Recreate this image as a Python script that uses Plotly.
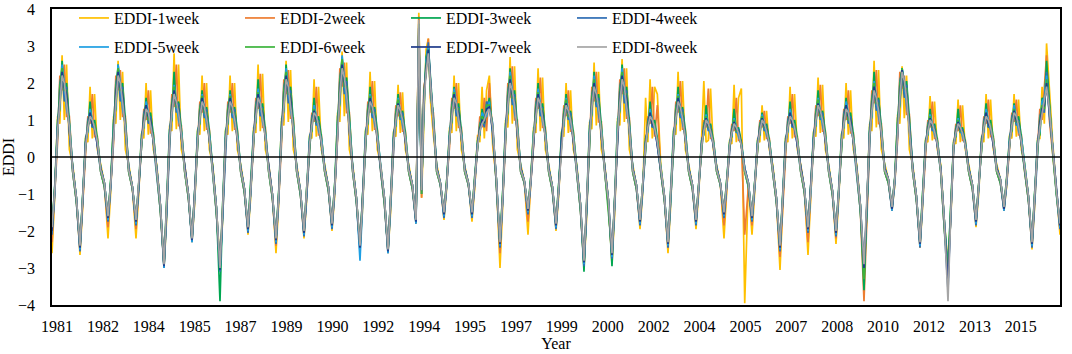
import plotly.graph_objects as go

# Sample positions inside each yearly cycle (fraction of a year)
cycle_frac = [0, 0.1, 0.2, 0.28, 0.36, 0.44, 0.52, 0.62, 0.74, 0.87]
n_years = 36

tick_labels = ["1981", "1982", "1984", "1985", "1987", "1989", "1990", "1992", "1994", "1995", "1997",
               "1999", "2000", "2002", "2004", "2005", "2007", "2008", "2010", "2012", "2013", "2015"]

series_names = ["EDDI-1week", "EDDI-2week", "EDDI-3week", "EDDI-4week",
                "EDDI-5week", "EDDI-6week", "EDDI-7week", "EDDI-8week"]

eddi_1week = [
-2.6,-1.0,1.1,0.9,2.75,1.0,2.5,0.2,-0.2,-1.1,
-2.65,-1.3,0.55,0.4,1.9,0.5,1.7,0.2,-0.2,-0.7,
-2.2,-0.9,1.1,0.9,2.6,1.0,2.3,0.2,-0.2,-0.8,
-2.2,-0.95,0.65,0.5,2.0,0.6,1.8,0.2,-0.2,-1.3,
-3.0,-1.6,0.85,0.7,2.8,0.75,2.5,0.2,-0.2,-1.0,
-2.3,-1.2,0.75,0.6,2.2,0.7,2.0,0.2,-0.2,-1.35,
-2.9,-1.65,0.75,0.6,2.2,0.7,2.0,0.2,-0.2,-0.85,
-2.1,-1.05,0.8,0.65,2.5,0.7,2.25,0.2,-0.2,-1.0,
-2.6,-1.2,1.05,0.85,2.6,0.95,2.35,0.2,-0.2,-0.9,
-2.2,-1.1,0.6,0.5,2.1,0.55,1.9,0.2,-0.2,-0.8,
-2.0,-1.0,1.2,0.95,2.85,1.1,2.55,0.2,-0.2,-1.1,
-2.5,-1.3,0.75,0.6,2.3,0.7,2.05,0.2,-0.2,-1.1,
-2.6,-1.4,0.7,0.55,1.95,0.65,1.75,0.2,-0.2,-0.75,
-1.8,3.9,-1.1,1.0,2.9,3.2,1.5,0.6,-0.2,-0.7,
-1.7,-0.8,0.8,0.65,2.2,0.7,2.0,0.2,-0.2,-0.7,
-1.75,-0.8,0.6,0.4,1.9,0.5,1.8,2.2,0.3,-0.6,
-3.0,-1.25,1.0,0.8,2.7,0.9,2.45,0.2,-0.2,-0.65,
-2.1,-0.75,0.8,0.65,2.4,0.7,2.15,0.2,-0.2,-0.8,
-2.0,-1.0,0.7,0.55,2.0,0.65,1.8,0.2,-0.2,-1.25,
-3.0,-1.55,0.95,0.75,2.55,0.85,2.3,0.2,-0.2,-1.15,
-2.9,-1.45,1.05,0.85,2.65,0.95,2.4,0.2,-0.2,-0.75,
-1.95,-0.95,1.6,0.4,2.1,0.5,1.9,1.7,-0.2,-1.05,
-2.6,-1.25,0.75,0.6,2.3,0.7,2.05,0.2,-0.2,-0.75,
-1.95,-0.95,0.5,2.05,0.4,0.45,1.85,0.2,-0.2,-0.7,
-2.2,-0.8,0.45,0.35,1.95,0.4,1.6,1.85,-3.95,-0.7,
-2.1,-0.9,0.5,0.4,1.4,0.45,1.25,0.2,-0.2,-1.1,
-3.05,-1.3,0.55,0.4,1.9,0.5,1.7,0.2,-0.2,-0.85,
-2.65,-1.05,0.7,0.55,2.15,0.65,1.95,0.2,-0.2,-0.9,
-2.35,-1.1,0.65,0.5,2.0,0.6,1.8,0.2,-0.2,-1.3,
-3.2,-1.6,0.9,0.7,2.6,0.8,2.35,0.2,-0.2,-0.6,
-1.45,-0.75,1.15,0.9,2.45,1.05,2.2,0.2,-0.2,-1.05,
-2.45,-1.25,0.5,0.4,1.65,0.45,1.5,0.2,-0.2,-1.75,
-2.9,-1.7,0.45,0.35,1.55,0.4,1.4,0.2,-0.2,-0.75,
-1.9,-0.95,0.55,0.4,1.7,0.5,1.55,0.2,-0.2,-0.6,
-1.45,-0.75,0.6,0.5,1.7,0.55,1.55,0.2,-0.2,-1.05,
-2.5,-1.25,0.5,0.5,1.9,0.9,3.07,1.7,0.4,-0.9,
-2.1]

eddi_2week = [
-2.3,-1.0,0.4,2.2,1.8,2.5,1.1,1.1,-0.4,-1.2,
-2.5,-1.2,0.2,1.1,0.9,1.7,0.55,0.55,-0.4,-0.8,
-1.9,-0.8,0.4,2.2,1.8,2.35,1.1,1.1,-0.4,-0.85,
-1.95,-0.85,0.26,1.3,1.0,1.8,0.65,0.65,-0.4,-1.45,
-2.95,-1.45,0.34,1.7,1.35,2.5,0.85,0.85,-0.4,-1.1,
-2.25,-1.1,0.3,1.5,1.2,2.0,0.75,0.75,-0.4,-1.5,
-3.0,-1.5,0.3,1.5,1.2,2.0,0.75,0.75,-0.4,-0.95,
-2.0,-0.95,0.3,1.6,1.3,2.25,0.8,0.8,-0.4,-1.1,
-2.4,-1.1,0.4,2.1,1.7,2.35,1.05,1.05,-0.4,-1.0,
-2.1,-1.0,0.25,1.2,0.95,1.9,0.6,0.6,-0.4,-0.9,
-1.9,-0.9,0.5,2.4,1.9,2.55,1.2,1.2,-0.4,-1.2,
-2.5,-1.2,0.3,1.5,1.2,2.05,0.75,0.75,-0.4,-1.25,
-2.55,-1.25,0.3,1.4,1.1,1.75,0.7,0.7,-0.4,-0.85,
-1.75,3.8,-1.1,1.9,2.2,3.2,1.6,1.2,-0.4,-0.75,
-1.6,-0.75,0.3,1.6,1.3,2.0,0.8,0.8,-0.4,-0.75,
-1.6,-0.75,0.2,1.1,0.8,1.6,0.7,2.0,0.5,-0.7,
-2.6,-1.15,0.4,2.0,1.6,2.45,1.0,1.0,-0.4,-0.7,
-1.75,-0.7,0.3,1.6,1.3,2.15,0.8,0.8,-0.4,-0.9,
-1.9,-0.9,0.3,1.4,1.1,1.8,0.7,0.7,-0.4,-1.4,
-2.95,-1.4,0.4,1.9,1.5,2.3,0.95,0.95,-0.4,-1.3,
-2.8,-1.3,0.4,2.1,1.7,2.4,1.05,1.05,-0.4,-0.85,
-1.8,-0.85,0.2,1.1,0.9,1.9,0.55,1.4,-0.4,-1.15,
-2.45,-1.15,0.3,1.5,1.2,2.05,0.75,0.75,-0.4,-0.85,
-1.8,-0.85,0.2,1.0,0.8,1.85,0.5,0.5,-0.4,-0.75,
-1.85,-0.75,0.2,0.9,0.7,1.6,0.45,0.45,-2.1,-0.8,
-1.85,-0.8,0.2,1.0,0.8,1.25,0.5,0.5,-0.4,-1.2,
-2.7,-1.2,0.2,1.1,0.9,1.7,0.55,0.55,-0.4,-0.95,
-2.3,-0.95,0.3,1.4,1.1,1.95,0.7,0.7,-0.4,-1.0,
-2.2,-1.0,0.26,1.3,1.0,1.8,0.65,0.65,-0.4,-1.45,
-3.9,-1.45,0.35,1.8,1.45,2.35,0.9,0.9,-0.4,-0.7,
-1.4,-0.7,0.45,2.3,1.85,2.2,1.15,1.15,-0.4,-1.15,
-2.4,-1.15,0.2,1.0,0.8,1.5,0.5,0.5,-0.4,-1.95,
-3.0,-1.6,0.2,0.9,0.7,1.4,0.45,0.45,-0.4,-0.85,
-1.8,-0.85,0.2,1.1,0.9,1.55,0.55,0.55,-0.4,-0.7,
-1.4,-0.7,0.25,1.2,0.95,1.55,0.6,0.6,-0.4,-1.15,
-2.4,-1.15,0.2,1.3,1.0,2.0,2.75,1.0,0.0,-1.0,
-1.95]

eddi_3week = [
-1.9,-0.8,1.0,1.3,2.6,1.7,2.0,1.0,-0.3,-1.1,
-2.4,-1.0,0.5,0.7,1.5,0.8,1.0,0.5,-0.3,-0.7,
-1.6,-0.6,1.0,1.3,2.5,1.7,2.0,1.0,-0.3,-0.8,
-1.7,-0.7,0.6,0.8,1.6,1.0,1.2,0.6,-0.3,-1.3,
-2.9,-1.15,0.75,1.0,2.3,1.3,1.5,0.75,-0.3,-1.0,
-2.2,-0.9,0.7,0.9,1.8,1.1,1.35,0.7,-0.3,-1.35,
-3.9,-1.2,0.7,0.9,1.8,1.1,1.35,0.7,-0.3,-0.85,
-1.9,-0.75,0.7,0.95,2.1,1.2,1.45,0.7,-0.3,-1.0,
-2.2,-0.9,0.95,1.25,2.5,1.6,1.9,0.95,-0.3,-0.9,
-2.0,-0.8,0.55,0.7,1.6,0.9,1.1,0.55,-0.3,-0.8,
-1.8,-0.7,1.1,1.45,2.7,1.8,2.15,1.1,-0.3,-1.1,
-2.4,-0.95,0.7,0.9,1.9,1.1,1.35,0.7,-0.3,-1.1,
-2.5,-1.0,0.65,0.85,1.7,1.05,1.25,0.65,-0.3,-0.75,
-1.7,3.6,-0.8,1.2,2.7,3.0,2.1,1.2,-0.3,-0.7,
-1.5,-0.6,0.7,0.95,1.9,1.2,1.45,0.7,-0.3,-0.7,
-1.5,-0.5,0.45,0.6,1.3,0.9,1.2,1.6,0.7,-0.6,
-2.3,-0.9,0.9,1.2,2.4,1.5,1.8,0.9,-0.3,-0.65,
-1.4,-0.55,0.7,0.95,2.0,1.2,1.45,0.7,-0.3,-0.8,
-1.8,-0.7,0.65,0.85,1.7,1.05,1.25,0.65,-0.3,-1.25,
-3.1,-1.1,0.85,1.15,2.3,1.4,1.7,0.85,-0.3,-1.15,
-2.95,-1.05,0.95,1.25,2.5,1.6,1.9,0.95,-0.3,-0.75,
-1.7,-0.7,0.5,0.7,1.5,0.8,1.0,0.5,-0.3,-1.05,
-2.3,-0.9,0.7,0.9,1.9,1.1,1.35,0.7,-0.3,-0.75,
-1.7,-0.7,0.45,0.6,1.4,0.75,0.9,0.45,-0.3,-0.7,
-1.5,-0.6,0.4,0.55,1.3,0.7,0.8,0.4,-0.3,-0.7,
-1.6,-0.65,0.45,0.6,1.2,0.75,0.9,0.45,-0.3,-1.1,
-2.4,-0.95,0.5,0.7,1.5,0.8,1.0,0.5,-0.3,-0.85,
-1.9,-0.75,0.65,0.85,1.8,1.05,1.25,0.65,-0.3,-0.9,
-2.0,-0.8,0.6,0.8,1.6,1.0,1.2,0.6,-0.3,-1.3,
-3.6,-1.15,0.8,1.1,2.3,1.35,1.6,0.8,-0.3,-0.6,
-1.35,-0.55,1.05,1.4,2.4,1.7,2.05,1.05,-0.3,-1.05,
-2.3,-0.9,0.45,0.6,1.3,0.75,0.9,0.45,-0.3,-1.75,
-3.0,-1.3,0.4,0.55,1.3,0.7,0.8,0.4,-0.3,-0.75,
-1.7,-0.7,0.5,0.7,1.45,0.8,1.0,0.5,-0.3,-0.6,
-1.35,-0.55,0.55,0.7,1.45,0.9,1.1,0.55,-0.3,-1.05,
-2.3,-0.9,0.45,0.6,1.6,1.4,2.6,1.5,0.2,-0.9,
-1.8]

eddi_4week = [
-2.1,-0.9,0.6,2.0,2.3,1.5,1.9,0.7,-0.4,-1.2,
-2.55,-1.1,0.3,1.0,1.2,0.8,0.9,0.3,-0.4,-0.8,
-1.75,-0.7,0.6,2.0,2.3,1.5,1.9,0.7,-0.4,-0.85,
-1.85,-0.75,0.3,1.2,1.4,0.9,1.1,0.4,-0.4,-1.45,
-3.0,-1.3,0.4,1.5,1.8,1.2,1.45,0.5,-0.4,-1.1,
-2.3,-1.0,0.4,1.35,1.6,1.05,1.3,0.45,-0.4,-1.5,
-3.1,-1.35,0.4,1.35,1.6,1.05,1.3,0.45,-0.4,-0.95,
-2.05,-0.85,0.4,1.45,1.7,1.1,1.35,0.5,-0.4,-1.1,
-2.35,-1.0,0.5,1.9,2.2,1.45,1.8,0.65,-0.4,-1.0,
-2.15,-0.9,0.3,1.1,1.25,0.85,1.0,0.35,-0.4,-0.9,
-1.95,-0.8,0.6,2.15,2.5,1.7,2.05,0.7,-0.4,-1.2,
-2.55,-1.1,0.4,1.35,1.6,1.05,1.3,0.45,-0.4,-1.25,
-2.6,-1.15,0.35,1.25,1.45,1.0,1.2,0.4,-0.4,-0.85,
-1.8,3.2,-1.0,1.7,2.4,3.1,2.0,0.9,-0.4,-0.75,
-1.65,-0.7,0.4,1.45,1.7,1.1,1.35,0.5,-0.4,-0.75,
-1.65,-0.6,0.25,0.9,1.05,0.8,1.5,1.35,0.9,-0.7,
-2.45,-1.05,0.5,1.8,2.1,1.4,1.7,0.6,-0.4,-0.7,
-1.55,-0.65,0.4,1.45,1.7,1.1,1.35,0.5,-0.4,-0.9,
-1.95,-0.8,0.35,1.25,1.45,1.0,1.2,0.4,-0.4,-1.4,
-2.95,-1.25,0.5,1.7,2.0,1.35,1.6,0.55,-0.4,-1.3,
-2.75,-1.15,0.5,1.9,2.2,1.45,1.8,0.65,-0.4,-0.85,
-1.85,-0.75,0.3,1.0,1.2,0.8,0.9,0.3,-0.4,-1.15,
-2.45,-1.05,0.4,1.35,1.6,1.05,1.3,0.45,-0.4,-0.85,
-1.85,-0.75,0.25,0.9,1.05,0.7,0.85,0.3,-0.4,-0.75,
-1.65,-0.7,0.2,0.8,0.95,0.65,0.75,0.3,-0.4,-0.8,
-1.75,-0.7,0.25,0.9,1.05,0.7,0.85,0.3,-0.4,-1.2,
-2.55,-1.1,0.3,1.0,1.2,0.8,0.9,0.3,-0.4,-0.95,
-2.05,-0.85,0.35,1.25,1.45,1.0,1.2,0.4,-0.4,-1.0,
-2.15,-0.9,0.3,1.2,1.4,0.9,1.1,0.4,-0.4,-1.45,
-3.1,-1.3,0.45,1.6,1.9,1.25,1.55,0.55,-0.4,-0.7,
-1.45,-0.6,0.6,2.05,2.35,1.6,1.95,0.7,-0.4,-1.15,
-2.45,-1.05,0.25,0.9,1.05,0.7,0.85,0.3,-0.4,-1.95,
-3.6,-1.5,0.2,0.8,0.95,0.65,0.75,0.3,-0.4,-0.85,
-1.85,-0.75,0.3,1.0,1.2,0.8,0.9,0.3,-0.4,-0.7,
-1.45,-0.6,0.3,1.1,1.25,0.85,1.0,0.35,-0.4,-1.15,
-2.45,-1.05,0.25,1.1,1.3,1.2,2.3,1.3,0.1,-1.0,
-1.95]

eddi_5week = [
-2.0,-1.0,0.9,1.4,2.5,2.0,1.3,0.9,-0.3,-1.1,
-2.5,-1.2,0.4,0.7,1.3,1.0,0.7,0.4,-0.3,-0.7,
-1.7,-0.8,0.9,1.4,2.5,2.0,1.3,0.9,-0.3,-0.8,
-1.8,-0.85,0.5,0.85,1.5,1.2,0.8,0.5,-0.3,-1.3,
-3.0,-1.45,0.7,1.1,1.95,1.5,1.0,0.7,-0.3,-1.0,
-2.3,-1.1,0.6,1.0,1.7,1.35,0.9,0.6,-0.3,-1.35,
-3.05,-1.5,0.6,1.0,1.7,1.35,0.9,0.6,-0.3,-0.85,
-2.0,-0.95,0.65,1.05,1.85,1.45,0.95,0.65,-0.3,-1.0,
-2.3,-1.1,0.85,1.35,2.4,1.9,1.25,0.85,-0.3,-0.9,
-2.1,-1.0,0.5,0.8,1.4,1.1,0.7,0.5,-0.3,-0.8,
-1.9,-0.9,0.95,1.55,2.75,2.15,1.45,0.95,-0.3,-1.1,
-2.8,-1.2,0.6,1.0,1.7,1.35,0.9,0.6,-0.3,-1.1,
-2.6,-1.25,0.55,0.9,1.6,1.25,0.85,0.55,-0.3,-0.75,
-1.8,3.0,-0.8,1.3,2.6,3.0,1.7,1.1,-0.3,-0.7,
-1.6,-0.75,0.65,1.05,1.85,1.45,0.95,0.65,-0.3,-0.7,
-1.6,-0.7,0.4,0.65,1.2,1.1,1.1,1.5,0.6,-0.6,
-2.4,-1.15,0.8,1.3,2.3,1.8,1.2,0.8,-0.3,-0.65,
-1.5,-0.7,0.65,1.05,1.85,1.45,0.95,0.65,-0.3,-0.8,
-1.9,-0.9,0.55,0.9,1.6,1.25,0.85,0.55,-0.3,-1.25,
-2.9,-1.4,0.75,1.25,2.2,1.7,1.15,0.75,-0.3,-1.15,
-2.7,-1.3,0.85,1.35,2.4,1.9,1.25,0.85,-0.3,-0.75,
-1.8,-0.85,0.4,0.7,1.3,1.0,0.7,0.4,-0.3,-1.05,
-2.4,-1.15,0.6,1.0,1.7,1.35,0.9,0.6,-0.3,-0.75,
-1.8,-0.85,0.4,0.65,1.15,0.9,0.6,0.4,-0.3,-0.7,
-1.6,-0.75,0.35,0.6,1.05,0.8,0.55,0.35,-0.3,-0.7,
-1.7,-0.8,0.4,0.65,1.15,0.9,0.6,0.4,-0.3,-1.1,
-2.5,-1.2,0.4,0.7,1.3,1.0,0.7,0.4,-0.3,-0.85,
-2.0,-0.95,0.55,0.9,1.6,1.25,0.85,0.55,-0.3,-0.9,
-2.1,-1.0,0.5,0.85,1.5,1.2,0.8,0.5,-0.3,-1.3,
-3.0,-1.45,0.7,1.15,2.05,1.6,1.1,0.7,-0.3,-0.6,
-1.45,-0.7,0.9,1.5,2.4,2.05,1.4,0.9,-0.3,-1.05,
-2.4,-1.15,0.4,0.65,1.15,0.9,0.6,0.4,-0.3,-1.75,
-3.2,-1.6,0.35,0.6,1.05,0.8,0.55,0.35,-0.3,-0.75,
-1.8,-0.85,0.4,0.7,1.3,1.0,0.7,0.4,-0.3,-0.6,
-1.45,-0.7,0.5,0.8,1.4,1.1,0.7,0.5,-0.3,-1.05,
-2.4,-1.15,0.4,0.7,1.5,1.6,2.2,1.1,0.3,-0.9,
-1.9]

eddi_6week = [
-1.9,-0.8,0.7,1.9,2.4,1.8,1.8,0.8,-0.4,-1.2,
-2.4,-1.0,0.3,0.9,1.2,0.9,0.9,0.4,-0.4,-0.8,
-1.6,-0.6,0.7,1.9,2.4,1.8,1.8,0.8,-0.4,-0.85,
-1.7,-0.7,0.4,1.1,1.4,1.0,1.0,0.45,-0.4,-1.45,
-2.9,-1.15,0.5,1.45,1.9,1.35,1.35,0.6,-0.4,-1.1,
-2.2,-0.9,0.45,1.3,1.65,1.2,1.2,0.5,-0.4,-1.5,
-3.0,-1.2,0.45,1.3,1.65,1.2,1.2,0.5,-0.4,-0.95,
-1.9,-0.75,0.5,1.35,1.75,1.3,1.3,0.55,-0.4,-1.1,
-2.2,-0.9,0.65,1.8,2.3,1.7,1.7,0.75,-0.4,-1.0,
-2.0,-0.8,0.35,1.0,1.3,0.95,0.95,0.4,-0.4,-0.9,
-1.8,-0.7,0.7,2.05,2.65,1.9,1.9,0.85,-0.4,-1.2,
-2.4,-0.95,0.45,1.3,1.65,1.2,1.2,0.5,-0.4,-1.25,
-2.5,-1.0,0.4,1.2,1.55,1.1,1.1,0.5,-0.4,-0.85,
-1.7,3.3,-1.0,1.6,2.5,2.9,1.8,1.0,-0.4,-0.75,
-1.5,-0.6,0.5,1.35,1.75,1.3,1.3,0.55,-0.4,-0.75,
-1.5,-0.5,0.3,0.85,1.1,0.9,1.4,1.4,0.8,-0.7,
-2.3,-0.9,0.6,1.7,2.2,1.6,1.6,0.7,-0.4,-0.7,
-1.4,-0.55,0.5,1.35,1.75,1.3,1.3,0.55,-0.4,-0.9,
-1.8,-0.7,0.4,1.2,1.55,1.1,1.1,0.5,-0.4,-1.4,
-2.8,-1.1,0.55,1.6,2.1,1.5,1.5,0.65,-0.4,-1.3,
-2.6,-1.05,0.65,1.8,2.3,1.7,1.7,0.75,-0.4,-0.85,
-1.7,-0.7,0.3,0.9,1.2,0.9,0.9,0.4,-0.4,-1.15,
-2.3,-0.9,0.45,1.3,1.65,1.2,1.2,0.5,-0.4,-0.85,
-1.7,-0.7,0.3,0.85,1.1,0.8,0.8,0.35,-0.4,-0.75,
-1.5,-0.6,0.3,0.75,1.0,0.7,0.7,0.3,-0.4,-0.8,
-1.6,-0.65,0.3,0.85,1.1,0.8,0.8,0.35,-0.4,-1.2,
-2.4,-0.95,0.3,0.9,1.2,0.9,0.9,0.4,-0.4,-0.95,
-1.9,-0.75,0.4,1.2,1.55,1.1,1.1,0.5,-0.4,-1.0,
-2.0,-0.8,0.4,1.1,1.4,1.0,1.0,0.45,-0.4,-1.45,
-3.3,-1.15,0.55,1.55,2.0,1.45,1.45,0.65,-0.4,-0.7,
-1.35,-0.55,0.7,1.95,2.4,1.85,1.85,0.8,-0.4,-1.15,
-2.3,-0.9,0.3,0.85,1.1,0.8,0.8,0.35,-0.4,-1.95,
-3.1,-1.3,0.3,0.75,1.0,0.7,0.7,0.3,-0.4,-0.85,
-1.7,-0.7,0.3,0.9,1.2,0.9,0.9,0.4,-0.4,-0.7,
-1.35,-0.55,0.35,1.0,1.3,0.95,0.95,0.4,-0.4,-1.15,
-2.3,-0.9,0.3,1.0,1.4,1.3,2.1,1.4,0.1,-1.0,
-1.8]

eddi_7week = [
-2.0,-0.9,0.8,1.7,2.3,1.9,1.7,0.7,-0.3,-1.1,
-2.45,-1.1,0.4,0.8,1.2,0.9,0.8,0.3,-0.3,-0.7,
-1.65,-0.7,0.8,1.7,2.3,1.9,1.7,0.7,-0.3,-0.8,
-1.75,-0.75,0.45,1.0,1.4,1.1,1.0,0.4,-0.3,-1.3,
-2.95,-1.3,0.6,1.3,1.8,1.45,1.3,0.5,-0.3,-1.0,
-2.25,-1.0,0.5,1.1,1.6,1.3,1.1,0.45,-0.3,-1.35,
-3.05,-1.35,0.5,1.1,1.6,1.3,1.1,0.45,-0.3,-0.85,
-1.95,-0.85,0.55,1.2,1.7,1.35,1.2,0.5,-0.3,-1.0,
-2.25,-1.0,0.75,1.6,2.2,1.8,1.6,0.65,-0.3,-0.9,
-2.05,-0.9,0.4,0.9,1.25,1.0,0.9,0.35,-0.3,-0.8,
-1.85,-0.8,0.85,1.8,2.5,2.05,1.8,0.7,-0.3,-1.1,
-2.45,-1.1,0.5,1.1,1.6,1.3,1.1,0.45,-0.3,-1.1,
-2.55,-1.15,0.5,1.05,1.45,1.2,1.05,0.4,-0.3,-0.75,
-1.75,3.5,-0.9,1.5,2.4,2.9,1.9,0.9,-0.3,-0.7,
-1.55,-0.7,0.55,1.2,1.7,1.35,1.2,0.5,-0.3,-0.7,
-1.55,-0.6,0.35,0.75,1.0,0.95,1.3,1.35,0.7,-0.6,
-2.35,-1.05,0.7,1.5,2.1,1.7,1.5,0.6,-0.3,-0.65,
-1.45,-0.65,0.55,1.2,1.7,1.35,1.2,0.5,-0.3,-0.8,
-1.85,-0.8,0.5,1.05,1.45,1.2,1.05,0.4,-0.3,-1.25,
-2.85,-1.25,0.65,1.4,2.0,1.6,1.4,0.55,-0.3,-1.15,
-2.65,-1.15,0.75,1.6,2.2,1.8,1.6,0.65,-0.3,-0.75,
-1.75,-0.75,0.4,0.8,1.2,0.9,0.8,0.3,-0.3,-1.05,
-2.35,-1.05,0.5,1.1,1.6,1.3,1.1,0.45,-0.3,-0.75,
-1.75,-0.75,0.35,0.75,1.05,0.85,0.75,0.3,-0.3,-0.7,
-1.55,-0.7,0.3,0.7,0.95,0.75,0.7,0.3,-0.3,-0.7,
-1.65,-0.7,0.35,0.75,1.05,0.85,0.75,0.3,-0.3,-1.1,
-2.45,-1.1,0.4,0.8,1.2,0.9,0.8,0.3,-0.3,-0.85,
-1.95,-0.85,0.5,1.05,1.45,1.2,1.05,0.4,-0.3,-0.9,
-2.05,-0.9,0.45,1.0,1.4,1.1,1.0,0.4,-0.3,-1.3,
-3.0,-1.3,0.65,1.35,1.9,1.55,1.35,0.55,-0.3,-0.6,
-1.4,-0.6,0.8,1.7,2.35,1.95,1.7,0.7,-0.3,-1.05,
-2.35,-1.05,0.35,0.75,1.05,0.85,0.75,0.3,-0.3,-1.75,
-3.4,-1.5,0.3,0.7,0.95,0.75,0.7,0.3,-0.3,-0.75,
-1.75,-0.75,0.4,0.8,1.2,0.9,0.8,0.3,-0.3,-0.6,
-1.4,-0.6,0.4,0.9,1.25,1.0,0.9,0.35,-0.3,-1.05,
-2.35,-1.05,0.35,0.9,1.3,1.4,2.0,1.2,0.2,-0.9,
-1.85]

eddi_8week = [
-1.9,-0.9,0.7,1.5,2.2,2.0,1.5,0.8,-0.35,-1.1,
-2.4,-1.1,0.3,0.8,1.1,1.0,0.8,0.4,-0.35,-0.7,
-1.6,-0.7,0.7,1.5,2.2,2.0,1.5,0.8,-0.35,-0.8,
-1.7,-0.75,0.4,0.9,1.3,1.2,0.9,0.45,-0.35,-1.3,
-2.9,-1.3,0.5,1.2,1.7,1.5,1.2,0.6,-0.35,-1.0,
-2.2,-1.0,0.45,1.05,1.5,1.35,1.05,0.5,-0.35,-1.35,
-3.0,-1.35,0.45,1.05,1.5,1.35,1.05,0.5,-0.35,-0.85,
-1.9,-0.85,0.5,1.1,1.6,1.45,1.1,0.55,-0.35,-1.0,
-2.2,-1.0,0.65,1.45,2.1,1.9,1.45,0.75,-0.35,-0.9,
-2.0,-0.9,0.35,0.85,1.2,1.1,0.85,0.4,-0.35,-0.8,
-1.8,-0.8,0.7,1.7,2.4,2.15,1.7,0.85,-0.35,-1.1,
-2.4,-1.1,0.45,1.05,1.5,1.35,1.05,0.5,-0.35,-1.1,
-2.5,-1.15,0.4,1.0,1.4,1.25,1.0,0.5,-0.35,-0.75,
-1.7,3.7,-0.9,1.4,2.3,2.8,2.0,1.0,-0.35,-0.7,
-1.5,-0.7,0.5,1.1,1.6,1.45,1.1,0.55,-0.35,-0.7,
-1.5,-0.6,0.3,0.7,0.9,1.0,1.2,1.3,0.8,-0.6,
-2.3,-1.05,0.6,1.4,2.0,1.8,1.4,0.7,-0.35,-0.65,
-1.4,-0.65,0.5,1.1,1.6,1.45,1.1,0.55,-0.35,-0.8,
-1.8,-0.8,0.4,1.0,1.4,1.25,1.0,0.5,-0.35,-1.25,
-2.8,-1.25,0.55,1.35,1.9,1.7,1.35,0.65,-0.35,-1.15,
-2.6,-1.15,0.65,1.45,2.1,1.9,1.45,0.75,-0.35,-0.75,
-1.7,-0.75,0.3,0.8,1.1,1.0,0.8,0.4,-0.35,-1.05,
-2.3,-1.05,0.45,1.05,1.5,1.35,1.05,0.5,-0.35,-0.75,
-1.7,-0.75,0.3,0.7,1.0,0.9,0.7,0.35,-0.35,-0.7,
-1.5,-0.7,0.3,0.65,0.9,0.8,0.65,0.3,-0.35,-0.7,
-1.6,-0.7,0.3,0.7,1.0,0.9,0.7,0.35,-0.35,-1.1,
-2.4,-1.1,0.3,0.8,1.1,1.0,0.8,0.4,-0.35,-0.85,
-1.9,-0.85,0.4,1.0,1.4,1.25,1.0,0.5,-0.35,-0.9,
-2.0,-0.9,0.4,0.9,1.3,1.2,0.9,0.45,-0.35,-1.3,
-2.9,-1.3,0.55,1.25,1.8,1.6,1.25,0.65,-0.35,-0.6,
-1.35,-0.6,0.7,1.6,2.3,2.05,1.6,0.8,-0.35,-1.05,
-2.3,-1.05,0.3,0.7,1.0,0.9,0.7,0.35,-0.35,-1.75,
-3.9,-1.5,0.3,0.65,0.9,0.8,0.65,0.3,-0.35,-0.75,
-1.7,-0.75,0.3,0.8,1.1,1.0,0.8,0.4,-0.35,-0.6,
-1.35,-0.6,0.35,0.85,1.2,1.1,0.85,0.4,-0.35,-1.05,
-2.3,-1.05,0.3,0.8,1.2,1.5,1.9,1.3,0.2,-0.9,
-1.8]

all_series = [eddi_1week, eddi_2week, eddi_3week, eddi_4week,
              eddi_5week, eddi_6week, eddi_7week, eddi_8week]
colors = ["#FFC000", "#ED7D31", "#00A651", "#2E6DB4",
          "#1E9FE3", "#3CB43C", "#1F3A8A", "#A5A5A5"]

x_time = [year + f for year in range(n_years) for f in cycle_frac] + [n_years]
tick_pos = [0.18 + 1.639 * k for k in range(len(tick_labels))]

font_family = "Liberation Serif, Times New Roman, serif"

fig = go.Figure()
for i, (name, vals, col) in enumerate(zip(series_names, all_series, colors)):
    fig.add_trace(go.Scatter(
        x=x_time, y=vals, mode="lines", name=name,
        line=dict(color=col, width=1.7),
        legend="legend" if i < 4 else "legend2",
    ))

legend_common = dict(
    orientation="h", xanchor="left", yanchor="middle",
    xref="container", yref="container",
    bgcolor="rgba(0,0,0,0)", borderwidth=0,
    font=dict(family=font_family, size=16, color="black"),
    entrywidth=121, entrywidthmode="pixels",
    itemwidth=30, traceorder="normal",
)

fig.update_layout(
    width=1072, height=354,
    margin=dict(l=52, r=12, t=9, b=49, autoexpand=False),
    paper_bgcolor="white", plot_bgcolor="white",
    font=dict(family=font_family, size=16, color="black"),
    legend=dict(x=0.069, y=0.949, **legend_common),
    legend2=dict(x=0.069, y=0.867, **legend_common),
    xaxis=dict(
        range=[0, n_years], tickmode="array", tickvals=tick_pos, ticktext=tick_labels,
        showgrid=False, zeroline=False, ticks="", automargin=False,
        showline=True, linecolor="black", linewidth=1.5, mirror=True,
        ticklabelstandoff=6,
        title=dict(text="Year", font=dict(family=font_family, size=16), standoff=0),
        tickfont=dict(family=font_family, size=16, color="black"),
    ),
    yaxis=dict(
        range=[-4, 4], dtick=1, tick0=0, automargin=False,
        showgrid=False, zeroline=False, ticks="",
        showline=True, linecolor="black", linewidth=1.5, mirror=True,
        ticklabelstandoff=12, ticklabeloverflow="allow",
        title=dict(text="EDDI", font=dict(family=font_family, size=16), standoff=4),
        tickfont=dict(family=font_family, size=16, color="black"),
    ),
    shapes=[dict(type="line", xref="paper", yref="y", x0=0, x1=1, y0=0, y1=0,
                 line=dict(color="black", width=1.5), layer="above")],
)

# remove the browser's default page margin so the figure fills the window exactly
fig.write_html("out.html", config={"displayModeBar": False},
               post_script="document.body.style.margin='0px';")
